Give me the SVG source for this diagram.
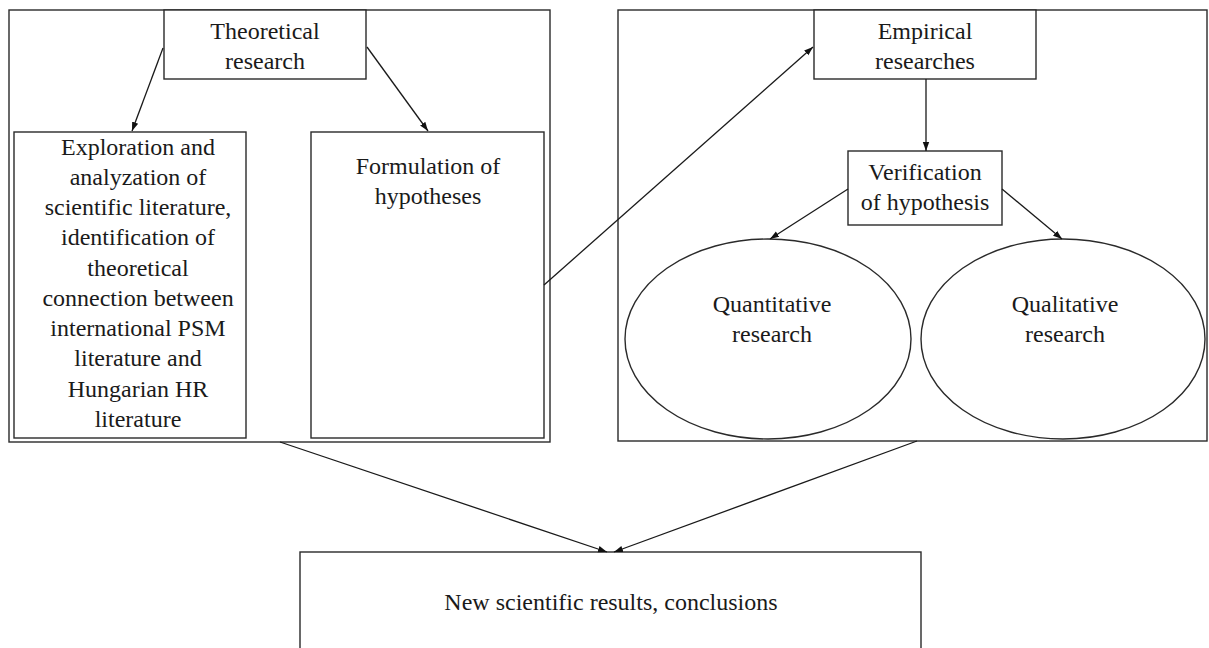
<svg xmlns="http://www.w3.org/2000/svg" width="1209" height="648" viewBox="0 0 1209 648">
<defs>
<style>
.box{fill:none;stroke:#2a2a2a;stroke-width:1.4}
.wbox{fill:#fff;stroke:#2a2a2a;stroke-width:1.4}
.lbl{font-family:"Liberation Serif","Times New Roman",serif;font-size:24px;fill:#1a1a1a;text-anchor:middle}
.conn{fill:none;stroke:#1a1a1a;stroke-width:1.3}
</style>
<marker id="arr" markerUnits="userSpaceOnUse" markerWidth="10" markerHeight="8" refX="9" refY="4" orient="auto">
<path d="M0,0.8 L9,4 L0,7.2 Z" fill="#111"/>
</marker>
</defs>
<rect width="1209" height="648" fill="#fff"/>
<g id="theory-frame"><rect class="box" x="9" y="10" width="541" height="432"/></g>
<g id="empirical-frame"><rect class="box" x="618" y="10" width="589" height="431"/></g>
<g id="theoretical-research">
<rect class="wbox" x="164" y="10" width="202" height="69"/>
<text class="lbl" x="265" y="39">Theoretical</text>
<text class="lbl" x="265" y="69">research</text>
</g>
<g id="exploration">
<rect class="wbox" x="14" y="132" width="232" height="306"/>
<text class="lbl" x="138" y="155">Exploration and</text>
<text class="lbl" x="138" y="185">analyzation of</text>
<text class="lbl" x="138" y="215">scientific literature,</text>
<text class="lbl" x="138" y="245">identification of</text>
<text class="lbl" x="138" y="276">theoretical</text>
<text class="lbl" x="138" y="306">connection between</text>
<text class="lbl" x="138" y="336">international PSM</text>
<text class="lbl" x="138" y="366">literature and</text>
<text class="lbl" x="138" y="397">Hungarian HR</text>
<text class="lbl" x="138" y="427">literature</text>
</g>
<g id="formulation">
<rect class="wbox" x="311" y="132" width="233" height="306"/>
<text class="lbl" x="428" y="174">Formulation of</text>
<text class="lbl" x="428" y="204">hypotheses</text>
</g>
<g id="empirical-researches">
<rect class="wbox" x="814" y="10" width="222" height="69"/>
<text class="lbl" x="925" y="39">Empirical</text>
<text class="lbl" x="925" y="69">researches</text>
</g>
<g id="verification">
<rect class="wbox" x="848" y="151" width="154" height="74"/>
<text class="lbl" x="925" y="180">Verification</text>
<text class="lbl" x="925" y="210">of hypothesis</text>
</g>
<g id="quantitative">
<ellipse class="wbox" cx="768" cy="339" rx="143" ry="100"/>
<text class="lbl" x="772" y="312">Quantitative</text>
<text class="lbl" x="772" y="342">research</text>
</g>
<g id="qualitative">
<ellipse class="wbox" cx="1063" cy="339" rx="142" ry="100"/>
<text class="lbl" x="1065" y="312">Qualitative</text>
<text class="lbl" x="1065" y="342">research</text>
</g>
<g id="results">
<rect class="wbox" x="300" y="552" width="621" height="110"/>
<text class="lbl" x="611" y="610">New scientific results, conclusions</text>
</g>
<g id="connectors">
<line class="conn" x1="163" y1="48" x2="132" y2="131" marker-end="url(#arr)"/>
<line class="conn" x1="367" y1="47" x2="428" y2="131" marker-end="url(#arr)"/>
<line class="conn" x1="544" y1="285" x2="813" y2="47" marker-end="url(#arr)"/>
<line class="conn" x1="926" y1="79" x2="926" y2="151" marker-end="url(#arr)"/>
<line class="conn" x1="848" y1="189" x2="770" y2="239" marker-end="url(#arr)"/>
<line class="conn" x1="1002" y1="189" x2="1062" y2="239" marker-end="url(#arr)"/>
<line class="conn" x1="280" y1="442" x2="607" y2="552" marker-end="url(#arr)"/>
<line class="conn" x1="917" y1="441" x2="614" y2="552" marker-end="url(#arr)"/>
</g>
</svg>
